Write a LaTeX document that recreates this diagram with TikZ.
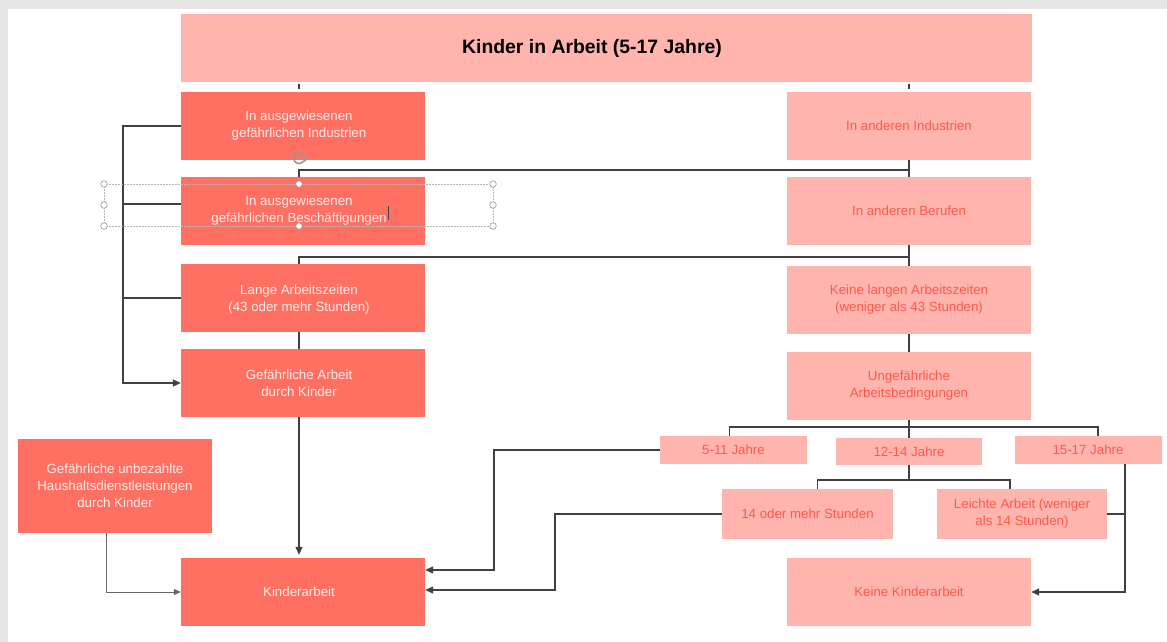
\documentclass[tikz,border=0pt]{standalone}
\usepackage{fontspec}
\setmainfont{Liberation Sans}
\usetikzlibrary{calc,arrows.meta}
\definecolor{dk}{RGB}{255,112,98}
\definecolor{lt}{RGB}{255,181,174}
\definecolor{ltxt}{RGB}{255,88,76}
\definecolor{dtxt}{RGB}{255,236,232}
\definecolor{ln}{RGB}{64,64,64}
\definecolor{bg}{RGB}{230,230,230}
\definecolor{hdl}{RGB}{150,150,150}
\begin{document}
\begin{tikzpicture}[x=1pt,y=-1pt,
 box/.style={draw=none, inner sep=0pt, align=center, font=\fontsize{13.3}{17}\selectfont},
 dark/.style={box, fill=dk, text=dtxt},
 light/.style={box, fill=lt, text=ltxt},
 dtext/.style={box, text=dtxt},
 colbox/.style={minimum width=244pt, minimum height=68pt},
 agebox/.style={minimum width=147pt, minimum height=28pt},
 hbox/.style={minimum width=171pt, minimum height=50pt},
 conn/.style={draw=ln, line width=1.2pt},
 arr/.style={conn, -{Triangle[length=8pt,width=7pt]}},
 thinarr/.style={draw=ln!80, line width=0.8pt, -{Triangle[length=7pt,width=6pt]}},
 handle/.style={draw=hdl, fill=white, line width=0.6pt},
]
\fill[bg] (0,0) rectangle (1167,642);
\fill[white] (8,9) rectangle (1167,642);
\useasboundingbox (0,0) rectangle (1167,642);

% title
\node[light, minimum width=851pt, minimum height=68pt, text=black,
      font=\bfseries\fontsize{19.4}{23}\selectfont] (T) at (606.5,48) {Kinder in Arbeit (5-17 Jahre)\hspace*{29pt}};

% left column (boxes, then their texts, which sit 4pt left of the box centre)
\node[dark, colbox] (L1) at (303,126) {};
\node[dark, colbox] (L2) at (303,211) {};
\node[dark, colbox] (L3) at (303,298) {};
\node[dark, colbox] (L4) at (303,383) {};
\node[dark, colbox] (K) at (303,592) {};
\node[dtext] (L1t) at ($(L1)+(-4,0)$) {In ausgewiesenen\\gefährlichen Industrien};
\node[dtext] (L2t) at ($(L2)+(-4,0)$) {In ausgewiesenen\\gefährlichen Beschäftigungen};
\node[dtext] (L3t) at ($(L3)+(-4,2)$) {Lange Arbeitszeiten\\(43 oder mehr Stunden)};
\node[dtext] (L4t) at ($(L4)+(-4,0)$) {Gefährliche Arbeit\\durch Kinder};
\node[dtext] (Kt) at ($(K)+(-4,0)$) {Kinderarbeit};
\node[dark, minimum width=194pt, minimum height=94pt] (H) at (115,486)
  {Gefährliche unbezahlte\\Haushaltsdienstleistungen\\durch Kinder};

% right column
\node[light, colbox] (R1) at (909,126) {In anderen Industrien};
\node[light, colbox] (R2) at (909,211) {In anderen Berufen};
\node[light, colbox] (R3) at (909,300) {Keine langen Arbeitszeiten\\(weniger als 43 Stunden)};
\node[light, colbox] (R4) at (909,386) {Ungefährliche\\Arbeitsbedingungen};
\node[light, colbox] (NK) at (909,592) {Keine Kinderarbeit};

\node[light, agebox] (A1) at (733.5,450) {5-11 Jahre};
\node[light, agebox, minimum width=146pt, minimum height=27pt] (A2) at (909,451.5) {12-14 Jahre};
\node[light, agebox] (A3) at (1088,450) {15-17 Jahre};

\node[light, hbox] (S1) at (807.5,514) {14 oder mehr Stunden};
\node[light, hbox, minimum width=170pt] (S2) at (1022,514) {Leichte Arbeit (weniger\\als 14 Stunden)};

% junction coordinates
\coordinate (xl) at (299,0);
\coordinate (j1) at (909,170);
\coordinate (j2) at (909,257);
\coordinate (bx) at (123,383);
\coordinate (ab) at (909,427);
\coordinate (sb) at (909,480);
\coordinate (c1) at (494,570);
\coordinate (c2) at (555,590);
\coordinate (c3) at (1125,592);

% connectors
\draw[conn, shorten <=2pt, shorten >=3pt] (T.south -| xl) -- (L1.north -| xl);
\draw[conn, shorten <=2pt, shorten >=3pt] (T.south -| R1) -- (R1.north);
\draw[conn] (R1.south) -- (R2.north);
\draw[conn] (L2.north -| xl) |- (j1);
\draw[conn] (R2.south) -- (R3.north);
\draw[conn] (L3.north -| xl) |- (j2);
\draw[conn] (L3.south -| xl) -- (L4.north -| xl);
\draw[conn] (R3.south) -- (R4.north);
\draw[arr] (L1.west) -| (bx) -- (L4.west);
\draw[conn] ($(L2.west)+(0,-7)$) -- ($(L2.west)+(-58,-7)$);
\draw[conn] (L3.west) -- (L3.west -| bx);
\draw[arr] (L4.south -| xl) -- ($(K.north -| xl)+(0,-3)$);
\draw[thinarr] ($(H.south)+(-9,0)$) |- (K.west);

\draw[conn] (R4.south) -- (A2.north);
\draw[conn] ($(A1.north)+(-4,0)$) |- (ab) -| ($(A3.north)+(10,0)$);
\draw[conn] (A2.south) -- (sb);
\draw[conn] ($(S1.north)+(10,0)$) |- (sb) -| ($(S2.north)+(-12,0)$);

\draw[arr] (A1.west) -| (c1) -- (c1 -| K.east);
\draw[arr] (S1.west) -| (c2) -- (c2 -| K.east);
\draw[arr] ($(A3.south)+(37,0)$) |- (NK.east);
\draw[conn] (S2.east) -- (S2.east -| c3);

% selection handles (editing artefacts)
\draw[hdl!70, line width=0.5pt, densely dotted] (104,184) rectangle (493,226);
\foreach \p in {(104,184),(104,205),(104,226),(299,184),(299,226),(493,184),(493,205),(493,226)}
  \draw[handle] \p circle (3.3pt);
\draw[hdl, line width=1.6pt] (299,158) ++(40:5.5pt) arc[start angle=40, end angle=330, radius=5.5pt];
\fill[hdl] (302,158) -- (308,158) -- (305,162) -- cycle;
\draw[black!80!cyan, line width=0.6pt] (388,206) -- (388,220);
\end{tikzpicture}
\end{document}
